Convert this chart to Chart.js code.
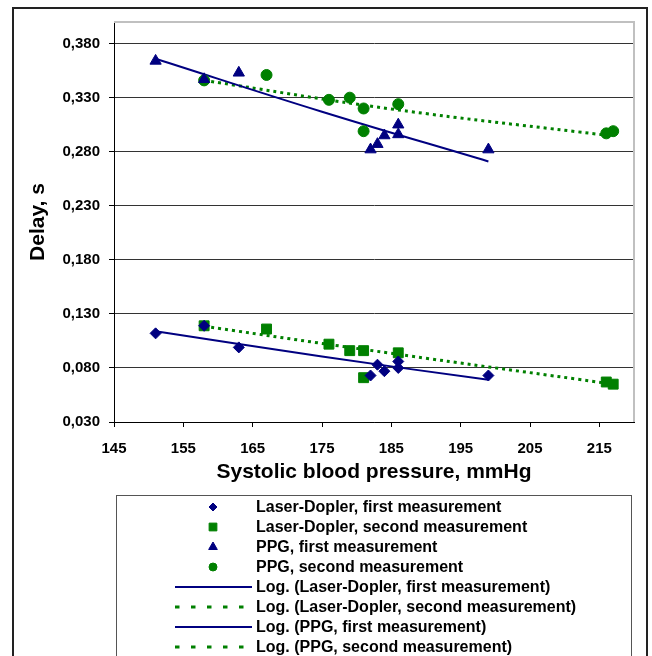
<!DOCTYPE html>
<html lang="en">
<head>
  <meta charset="UTF-8">
  <title>Delay vs systolic blood pressure</title>
  <script src="https://cdn.jsdelivr.net/npm/chart.js"></script>
  <style>
    body { margin: 0; background: #fff; }
  </style>
</head>
<body>
  <canvas id="delayChart" width="652" height="656"></canvas>

  <script>
    // systolic blood pressure (mmHg) and delay (s) for each series
    const ldFirstX   = [151, 158, 163, 182, 183, 184, 186, 186, 199];
    const ldFirstY   = [0.112, 0.119, 0.099, 0.073, 0.083, 0.077, 0.086, 0.080, 0.073];
    const ldSecondX  = [158, 167, 176, 179, 181, 181, 186, 216, 217];
    const ldSecondY  = [0.119, 0.116, 0.102, 0.096, 0.096, 0.071, 0.094, 0.067, 0.065];
    const ppgFirstX  = [151, 158, 163, 182, 183, 184, 186, 186, 199];
    const ppgFirstY  = [0.364, 0.347, 0.353, 0.282, 0.287, 0.295, 0.305, 0.296, 0.282];
    const ppgSecondX = [158, 167, 176, 179, 181, 181, 186, 216, 217];
    const ppgSecondY = [0.346, 0.351, 0.328, 0.330, 0.320, 0.299, 0.324, 0.297, 0.299];

    // log trendlines
    const ldFirstTrendX   = [151, 175, 199];
    const ldFirstTrendY   = [0.114, 0.0905, 0.069];
    const ldSecondTrendX  = [158, 185, 217];
    const ldSecondTrendY  = [0.1185, 0.0935, 0.065];
    const ppgFirstTrendX  = [151, 175, 199];
    const ppgFirstTrendY  = [0.366, 0.317, 0.271];
    const ppgSecondTrendX = [158, 185, 217];
    const ppgSecondTrendY = [0.346, 0.3195, 0.2945];

    const xTicks = [145, 155, 165, 175, 185, 195, 205, 215];
    const yTicks = [0.030, 0.080, 0.130, 0.180, 0.230, 0.280, 0.330, 0.380];

    const navy = "#000080";
    const green = "#008000";
    const font = "'Liberation Sans', Arial, sans-serif";

    const pts = (xs, ys) => xs.map((x, i) => ({ x: x, y: ys[i] }));

    function markers(label, xs, ys, color, style, radius) {
      return {
        label: label,
        data: pts(xs, ys),
        showLine: false,
        pointStyle: style,
        pointRadius: radius,
        pointBackgroundColor: color,
        pointBorderColor: color,
        pointBorderWidth: 1,
        backgroundColor: color,
        borderColor: color
      };
    }

    function trend(label, xs, ys, color, dashed) {
      return {
        label: label,
        data: pts(xs, ys),
        showLine: true,
        pointRadius: 0,
        borderColor: color,
        borderWidth: dashed ? 3 : 2,
        borderDash: dashed ? [3, 4] : [],
        legendDash: dashed ? [4.5, 11.5] : [],
        tension: 0.4
      };
    }

    // frame around the whole chart + grey top/right plot border
    const frame = {
      id: "frame",
      beforeDraw(chart) {
        const ctx = chart.ctx;
        ctx.save();
        ctx.strokeStyle = "#222";
        ctx.lineWidth = 2;
        ctx.strokeRect(13, 8, 634, 660);
        ctx.restore();
      },
      beforeDatasetsDraw(chart) {
        const a = chart.chartArea;
        const ctx = chart.ctx;
        ctx.save();
        ctx.strokeStyle = "#c0c0c0";
        ctx.lineWidth = 2;
        ctx.beginPath();
        ctx.moveTo(a.left, a.top);
        ctx.lineTo(a.right, a.top);
        ctx.lineTo(a.right, a.bottom);
        ctx.stroke();
        ctx.restore();
      }
    };

    // Excel-like legend box under the axis title
    const legendBox = {
      id: "legendBox",
      afterDraw(chart) {
        const ctx = chart.ctx;
        ctx.save();
        ctx.strokeStyle = "#555";
        ctx.lineWidth = 1;
        ctx.strokeRect(116.5, 495.5, 515, 200);
        ctx.font = "bold 16px " + font;
        ctx.textBaseline = "middle";
        chart.data.datasets.forEach((ds, i) => {
          const y = 507 + i * 20;
          if (ds.showLine) {
            ctx.strokeStyle = ds.borderColor;
            ctx.lineWidth = ds.borderWidth;
            ctx.setLineDash(ds.legendDash);
            ctx.beginPath();
            ctx.moveTo(175, y);
            ctx.lineTo(252, y);
            ctx.stroke();
            ctx.setLineDash([]);
          } else {
            ctx.fillStyle = ds.backgroundColor;
            ctx.strokeStyle = ds.borderColor;
            ctx.lineWidth = 1;
            Chart.helpers.drawPoint(ctx, { pointStyle: ds.pointStyle, radius: ds.pointRadius - 1.5, borderWidth: 1 }, 213, y);
          }
          ctx.fillStyle = "#000";
          ctx.fillText(ds.label, 256, y + 1);
        });
        ctx.restore();
      }
    };

    new Chart(document.getElementById("delayChart").getContext("2d"), {
      type: "scatter",
      data: {
        datasets: [
          markers("Laser-Dopler, first measurement", ldFirstX, ldFirstY, navy, "rectRot", 5.5),
          markers("Laser-Dopler, second measurement", ldSecondX, ldSecondY, green, "rect", 7),
          markers("PPG, first measurement", ppgFirstX, ppgFirstY, navy, "triangle", 6.5),
          markers("PPG, second measurement", ppgSecondX, ppgSecondY, green, "circle", 5.5),
          trend("Log. (Laser-Dopler, first measurement)", ldFirstTrendX, ldFirstTrendY, navy, false),
          trend("Log. (Laser-Dopler, second measurement)", ldSecondTrendX, ldSecondTrendY, green, true),
          trend("Log. (PPG, first measurement)", ppgFirstTrendX, ppgFirstTrendY, navy, false),
          trend("Log. (PPG, second measurement)", ppgSecondTrendX, ppgSecondTrendY, green, true)
        ]
      },
      options: {
        responsive: false,
        animation: false,
        layout: { padding: { left: 12, top: 22, right: 18, bottom: 164 } },
        plugins: {
          legend: { display: false },
          tooltip: { enabled: false }
        },
        scales: {
          x: {
            type: "linear",
            min: 145,
            max: 220,
            afterBuildTicks: axis => { axis.ticks = xTicks.map(v => ({ value: v })); },
            afterFit: axis => { axis.height = 70; },
            grid: { drawOnChartArea: false, tickLength: 5, tickColor: "#000" },
            border: { color: "#000", width: 1 },
            ticks: {
              padding: 13,
              color: "#000",
              font: { family: font, size: 15, weight: "bold" }
            },
            title: {
              display: true,
              text: "Systolic blood pressure, mmHg",
              color: "#000",
              padding: { top: 0, bottom: 7 },
              font: { family: font, size: 21, weight: "bold" }
            }
          },
          y: {
            min: 0.03,
            max: 0.4,
            afterBuildTicks: axis => { axis.ticks = yTicks.map(v => ({ value: v })); },
            afterFit: axis => { axis.width = 102; },
            grid: { color: "#333", tickLength: 5, tickColor: "#000" },
            border: { color: "#000", width: 1 },
            ticks: {
              padding: 9,
              color: "#000",
              font: { family: font, size: 15, weight: "bold" },
              callback: value => value.toFixed(3).replace(".", ",")
            },
            title: {
              display: true,
              text: "Delay, s",
              color: "#000",
              padding: { top: 14, bottom: 0 },
              font: { family: font, size: 21, weight: "bold" }
            }
          }
        }
      },
      plugins: [frame, legendBox]
    });
  </script>
</body>
</html>
